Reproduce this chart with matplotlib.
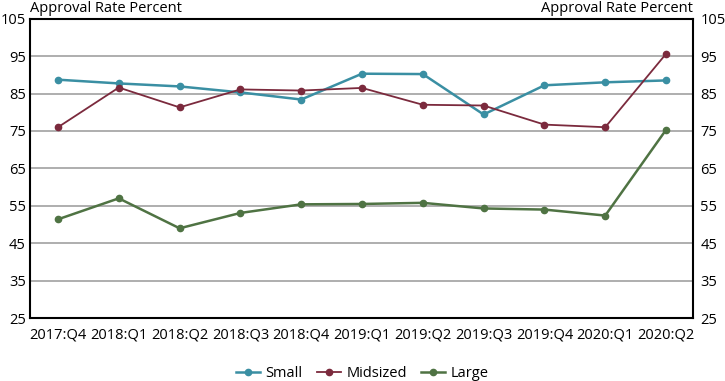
"""
Approval rates by bank size, line chart with dual y-axis labels.
"""

import matplotlib
matplotlib.use('Agg')
import matplotlib.pyplot as plt

# Data
quarters = ['2017:Q4', '2018:Q1', '2018:Q2', '2018:Q3', '2018:Q4', '2019:Q1',
            '2019:Q2', '2019:Q3', '2019:Q4', '2020:Q1', '2020:Q2']
small = [88.7, 87.7, 86.9, 85.3, 83.4, 90.3, 90.2, 79.4, 87.2, 88.0, 88.5]
midsized = [76.0, 86.6, 81.3, 86.1, 85.8, 86.5, 82.0, 81.8, 76.7, 76.0, 95.6]
large = [51.4, 57.0, 49.0, 53.1, 55.4, 55.5, 55.8, 54.3, 54.0, 52.4, 75.3]
yticks = [25, 35, 45, 55, 65, 75, 85, 95, 105]

plt.rcParams['font.family'] = ['Open Sans', 'DejaVu Sans']

fig = plt.figure(figsize=(7.25, 3.81), dpi=100)
ax = fig.add_axes([0.0414, 0.165, 0.915, 0.786])

x = range(len(quarters))
ax.plot(x, small, color='#3a8fa3', lw=1.8, marker='o', ms=4.5, label='Small', zorder=3)
ax.plot(x, midsized, color='#7b2a3d', lw=1.3, marker='o', ms=4.5, label='Midsized', zorder=3)
ax.plot(x, large, color='#4f7343', lw=1.8, marker='o', ms=4.5, label='Large', zorder=3)

ax.set_xlim(-0.46, 10.45)
ax.set_ylim(25, 105)
ax.set_yticks(yticks)
ax.set_xticks(list(x))
ax.set_xticklabels(quarters)
ax.tick_params(length=0, labelsize=10.5)
ax.tick_params(axis='x', pad=7)
ax.tick_params(axis='y', pad=3)
for g in yticks[1:-1]:
    ax.axhline(g, color='#999999', lw=1.1, zorder=1)
for s in ax.spines.values():
    s.set_linewidth(1.5)
    s.set_color('black')

ax2 = ax.twinx()
ax2.set_ylim(25, 105)
ax2.set_yticks(yticks)
ax2.tick_params(length=0, labelsize=10.5, pad=5)
for s in ax2.spines.values():
    s.set_visible(False)

fig.text(0.0414, 0.958, 'Approval Rate Percent', fontsize=10.5, ha='left', va='bottom')
fig.text(0.956, 0.958, 'Approval Rate Percent', fontsize=10.5, ha='right', va='bottom')

fig.legend(loc='lower center', bbox_to_anchor=(0.5, -0.035), ncol=3, frameon=False,
           fontsize=10.5, handlelength=1.6, columnspacing=1.0, handletextpad=0.4)

fig.savefig('out.png', dpi=100)
